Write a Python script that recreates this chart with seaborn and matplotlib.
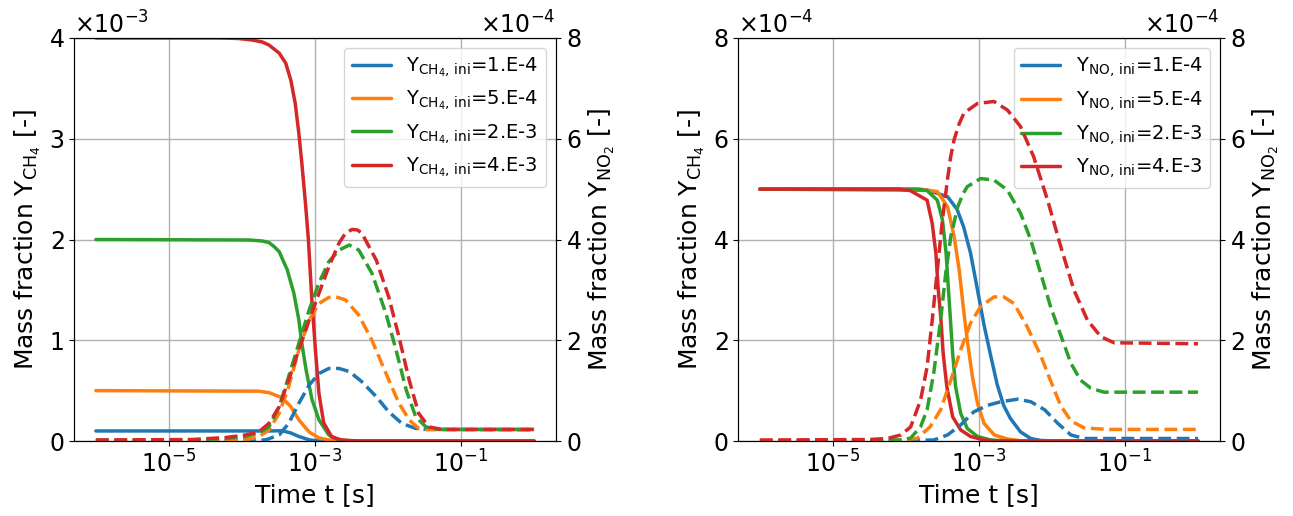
import numpy as np
import pandas as pd
import matplotlib
matplotlib.use("Agg")
import matplotlib.pyplot as plt
import seaborn as sns
from matplotlib.ticker import NullLocator, FixedLocator

# ---------------- data (time as log10 exponents, values in axis units) ----------------
colors = ["#1f77b4", "#ff7f0e", "#2ca02c", "#d62728"]
ini_labels = ["1.E-4", "5.E-4", "2.E-3", "4.E-3"]

# Left panel: Y_CH4 (x1e-3), varying CH4 initial
L_ch4_blue_lg = [-6, -3.63, -3.45, -3.33, -3.22, -3.08, -2.95, -2.7, 0]
L_ch4_blue_v = [0.1, 0.1, 0.102, 0.08, 0.045, 0.012, 0.002, 0.0, 0.0]
L_ch4_orange_lg = [-6, -3.77, -3.63, -3.45, -3.33, -3.22, -3.08, -2.945, -2.77, -2.5, 0]
L_ch4_orange_v = [0.5, 0.495, 0.48, 0.43, 0.34, 0.21, 0.09, 0.03, 0.005, 0.0, 0.0]
L_ch4_green_lg = [-6, -3.9, -3.72, -3.63, -3.56, -3.49, -3.38, -3.29, -3.22, -3.18, -3.12, -3.04, -2.945, -2.81, -2.67, -2.47, 0]
L_ch4_green_v = [2.0, 1.995, 1.985, 1.97, 1.93, 1.88, 1.70, 1.47, 1.20, 0.97, 0.70, 0.41, 0.21, 0.06, 0.01, 0.0, 0.0]
L_ch4_red_lg = [-6, -4.3, -4.05, -3.86, -3.72, -3.63, -3.49, -3.40, -3.33, -3.27, -3.22, -3.18, -3.13, -3.09, -3.04, -2.99, -2.945, -2.88, -2.77, -2.63, -2.4, 0]
L_ch4_red_v = [4.0, 4.0, 3.995, 3.98, 3.96, 3.93, 3.85, 3.75, 3.58, 3.35, 3.05, 2.76, 2.36, 2.0, 1.37, 0.87, 0.47, 0.18, 0.04, 0.01, 0.0, 0.0]

# Left panel: Y_NO2 (x1e-4)
L_no2_blue_lg = [-6, -3.77, -3.66, -3.49, -3.36, -3.22, -3.08, -2.945, -2.81, -2.67, -2.53, -2.36, -2.16, -1.99, -1.81, -1.62, -1.48, 0]
L_no2_blue_v = [0.0, 0.01, 0.03, 0.12, 0.35, 0.75, 1.11, 1.34, 1.44, 1.44, 1.38, 1.18, 0.88, 0.58, 0.35, 0.25, 0.23, 0.23]
L_no2_orange_lg = [-6, -4.22, -3.90, -3.77, -3.63, -3.49, -3.36, -3.22, -3.08, -2.945, -2.81, -2.71, -2.58, -2.40, -2.22, -2.03, -1.85, -1.71, -1.58, -1.48, 0]
L_no2_orange_v = [0.0, 0.01, 0.04, 0.08, 0.22, 0.55, 1.08, 1.81, 2.40, 2.73, 2.85, 2.86, 2.80, 2.50, 2.0, 1.35, 0.75, 0.42, 0.25, 0.23, 0.22]
L_no2_green_lg = [-6, -4.68, -4.22, -3.95, -3.77, -3.63, -3.49, -3.36, -3.22, -3.08, -2.945, -2.81, -2.67, -2.53, -2.40, -2.22, -2.03, -1.89, -1.75, -1.62, -1.48, -1.30, 0]
L_no2_green_v = [0.02, 0.02, 0.05, 0.09, 0.16, 0.28, 0.68, 1.28, 1.94, 2.60, 3.14, 3.56, 3.79, 3.89, 3.79, 3.33, 2.54, 1.81, 1.01, 0.48, 0.28, 0.23, 0.23]
L_no2_red_lg = [-6, -4.68, -4.22, -3.95, -3.77, -3.63, -3.49, -3.36, -3.22, -3.08, -2.945, -2.81, -2.67, -2.58, -2.49, -2.42, -2.36, -2.16, -1.99, -1.85, -1.71, -1.58, -1.44, -1.26, 0]
L_no2_red_v = [0.02, 0.03, 0.07, 0.12, 0.18, 0.35, 0.68, 1.21, 1.81, 2.40, 2.93, 3.46, 3.93, 4.13, 4.20, 4.19, 4.13, 3.59, 2.86, 2.07, 1.21, 0.55, 0.28, 0.23, 0.23]

# Right panel: Y_CH4 (x1e-4), varying NO initial
R_ch4_blue_lg = [-6, -3.71, -3.43, -3.30, -3.21, -3.115, -3.02, -2.93, -2.84, -2.75, -2.66, -2.57, -2.43, -2.29, -2.15, -1.9, 0]
R_ch4_blue_v = [5.0, 4.98, 4.85, 4.6, 4.25, 3.73, 3.0, 2.3, 1.7, 1.12, 0.7, 0.45, 0.18, 0.05, 0.01, 0.0, 0.0]
R_ch4_orange_lg = [-6, -3.8, -3.57, -3.43, -3.34, -3.27, -3.21, -3.16, -3.09, -3.02, -2.93, -2.79, -2.61, -2.4, 0]
R_ch4_orange_v = [5.0, 5.0, 4.95, 4.65, 4.06, 3.39, 2.60, 2.0, 1.28, 0.75, 0.35, 0.12, 0.04, 0.0, 0.0]
R_ch4_green_lg = [-6, -3.85, -3.71, -3.57, -3.50, -3.45, -3.42, -3.39, -3.36, -3.32, -3.25, -3.16, -3.02, -2.84, -2.6, 0]
R_ch4_green_v = [5.0, 5.0, 4.97, 4.78, 4.39, 3.73, 3.06, 2.40, 1.74, 1.08, 0.55, 0.25, 0.09, 0.02, 0.0, 0.0]
R_ch4_red_lg = [-6, -4.1, -3.94, -3.71, -3.64, -3.59, -3.56, -3.52, -3.49, -3.44, -3.36, -3.25, -3.115, -2.93, -2.7, 0]
R_ch4_red_v = [5.0, 5.0, 4.97, 4.78, 4.32, 3.73, 3.06, 2.40, 1.74, 1.08, 0.48, 0.22, 0.09, 0.02, 0.0, 0.0]

# Right panel: Y_NO2 (x1e-4)
R_no2_blue_lg = [-6, -3.62, -3.43, -3.25, -3.07, -2.88, -2.70, -2.47, -2.29, -2.10, -1.92, -1.74, -1.56, 0]
R_no2_blue_v = [0.0, 0.02, 0.12, 0.32, 0.58, 0.71, 0.78, 0.83, 0.78, 0.62, 0.35, 0.12, 0.05, 0.05]
R_no2_orange_lg = [-6, -4.2, -3.85, -3.67, -3.525, -3.385, -3.25, -3.115, -2.977, -2.795, -2.66, -2.52, -2.34, -2.155, -2.02, -1.88, -1.74, -1.56, -1.24, 0]
R_no2_orange_v = [0.0, 0.0, 0.05, 0.28, 0.62, 1.21, 1.81, 2.34, 2.67, 2.86, 2.86, 2.73, 2.27, 1.7, 1.2, 0.7, 0.4, 0.26, 0.23, 0.23]
R_no2_green_lg = [-6, -4.5, -4.07, -3.935, -3.80, -3.71, -3.62, -3.525, -3.455, -3.385, -3.29, -3.22, -3.16, -2.977, -2.795, -2.61, -2.43, -2.29, -2.155, -2.02, -1.88, -1.74, -1.61, -1.47, -1.29, 0]
R_no2_green_v = [0.0, 0.01, 0.02, 0.06, 0.28, 0.62, 1.34, 2.40, 3.33, 4.06, 4.65, 4.90, 5.05, 5.21, 5.18, 4.98, 4.52, 3.99, 3.33, 2.67, 2.1, 1.54, 1.21, 1.05, 0.97, 0.97]
R_no2_red_lg = [-6, -4.5, -4.255, -4.07, -3.935, -3.80, -3.71, -3.64, -3.57, -3.50, -3.43, -3.39, -3.34, -3.27, -3.205, -3.02, -2.795, -2.61, -2.43, -2.25, -2.06, -1.88, -1.70, -1.515, -1.33, -1.15, 0]
R_no2_red_v = [0.02, 0.03, 0.05, 0.12, 0.28, 0.81, 1.47, 2.40, 3.39, 4.39, 5.20, 5.62, 5.98, 6.30, 6.51, 6.70, 6.74, 6.57, 6.24, 5.64, 4.78, 3.86, 3.0, 2.40, 2.07, 1.95, 1.93]

left_solid = [(L_ch4_blue_lg, L_ch4_blue_v), (L_ch4_orange_lg, L_ch4_orange_v),
              (L_ch4_green_lg, L_ch4_green_v), (L_ch4_red_lg, L_ch4_red_v)]
left_dash = [(L_no2_blue_lg, L_no2_blue_v), (L_no2_orange_lg, L_no2_orange_v),
             (L_no2_green_lg, L_no2_green_v), (L_no2_red_lg, L_no2_red_v)]
right_solid = [(R_ch4_blue_lg, R_ch4_blue_v), (R_ch4_orange_lg, R_ch4_orange_v),
               (R_ch4_green_lg, R_ch4_green_v), (R_ch4_red_lg, R_ch4_red_v)]
right_dash = [(R_no2_blue_lg, R_no2_blue_v), (R_no2_orange_lg, R_no2_orange_v),
              (R_no2_green_lg, R_no2_green_v), (R_no2_red_lg, R_no2_red_v)]

# ---------------- figure ----------------
plt.rcParams.update({
    "font.family": ["DejaVu Sans"],
    "axes.labelsize": 18,
    "xtick.labelsize": 17,
    "ytick.labelsize": 17,
    "legend.fontsize": 14,
    "mathtext.default": "regular",
    "lines.solid_capstyle": "round",
    "lines.solid_joinstyle": "round",
})

fig, axes = plt.subplots(1, 2, figsize=(12.93, 5.16), dpi=100)
fig.subplots_adjust(left=0.0572, right=0.9435, top=0.9264, bottom=0.1453, wspace=0.3776)

LW = 2.5


def draw_panel(ax, solid, dash, s1, s2, ylim1, ylim2, yt1, yt2, lab1, lab2, leg_prefix):
    ax.set_xscale("log")
    for (lg, v), c, lab in zip(solid, colors, ini_labels):
        df = pd.DataFrame({"t": np.power(10.0, lg), "y": np.array(v) * s1})
        sns.lineplot(data=df, x="t", y="y", ax=ax, color=c, linewidth=LW,
                     errorbar=None, label=f"{leg_prefix}={lab}")
    ax2 = ax.twinx()
    for (lg, v), c in zip(dash, colors):
        df = pd.DataFrame({"t": np.power(10.0, lg), "y": np.array(v) * s2})
        sns.lineplot(data=df, x="t", y="y", ax=ax2, color=c, linewidth=LW,
                     linestyle="--", errorbar=None)
    ax.set_ylim(*ylim1)
    ax2.set_ylim(*ylim2)
    ax.yaxis.set_major_locator(FixedLocator(yt1))
    ax2.yaxis.set_major_locator(FixedLocator(yt2))
    for a in (ax, ax2):
        a.ticklabel_format(axis="y", style="sci", scilimits=(0, 0), useMathText=True)
        a.yaxis.get_offset_text().set_fontsize(17)
    ax.xaxis.set_major_locator(FixedLocator([1e-5, 1e-3, 1e-1]))
    ax.xaxis.set_minor_locator(NullLocator())
    ax.grid(True, color="#b0b0b0", linewidth=1.0)
    ax.set_xlabel("Time t [s]")
    ax.set_ylabel(lab1)
    ax2.set_ylabel(lab2)
    ax.legend(loc="upper right")
    return ax2


draw_panel(axes[0], left_solid, left_dash, 1e-3, 1e-4, (0, 4e-3), (0, 8e-4),
           [0, 1e-3, 2e-3, 3e-3, 4e-3], [0, 2e-4, 4e-4, 6e-4, 8e-4],
           r"Mass fraction $Y_{CH_4}$ [-]", r"Mass fraction $Y_{NO_2}$ [-]",
           r"$Y_{CH_4,\,ini}$")
draw_panel(axes[1], right_solid, right_dash, 1e-4, 1e-4, (0, 8e-4), (0, 8e-4),
           [0, 2e-4, 4e-4, 6e-4, 8e-4], [0, 2e-4, 4e-4, 6e-4, 8e-4],
           r"Mass fraction $Y_{CH_4}$ [-]", r"Mass fraction $Y_{NO_2}$ [-]",
           r"$Y_{NO,\,ini}$")

fig.savefig("out.png", dpi=100)
